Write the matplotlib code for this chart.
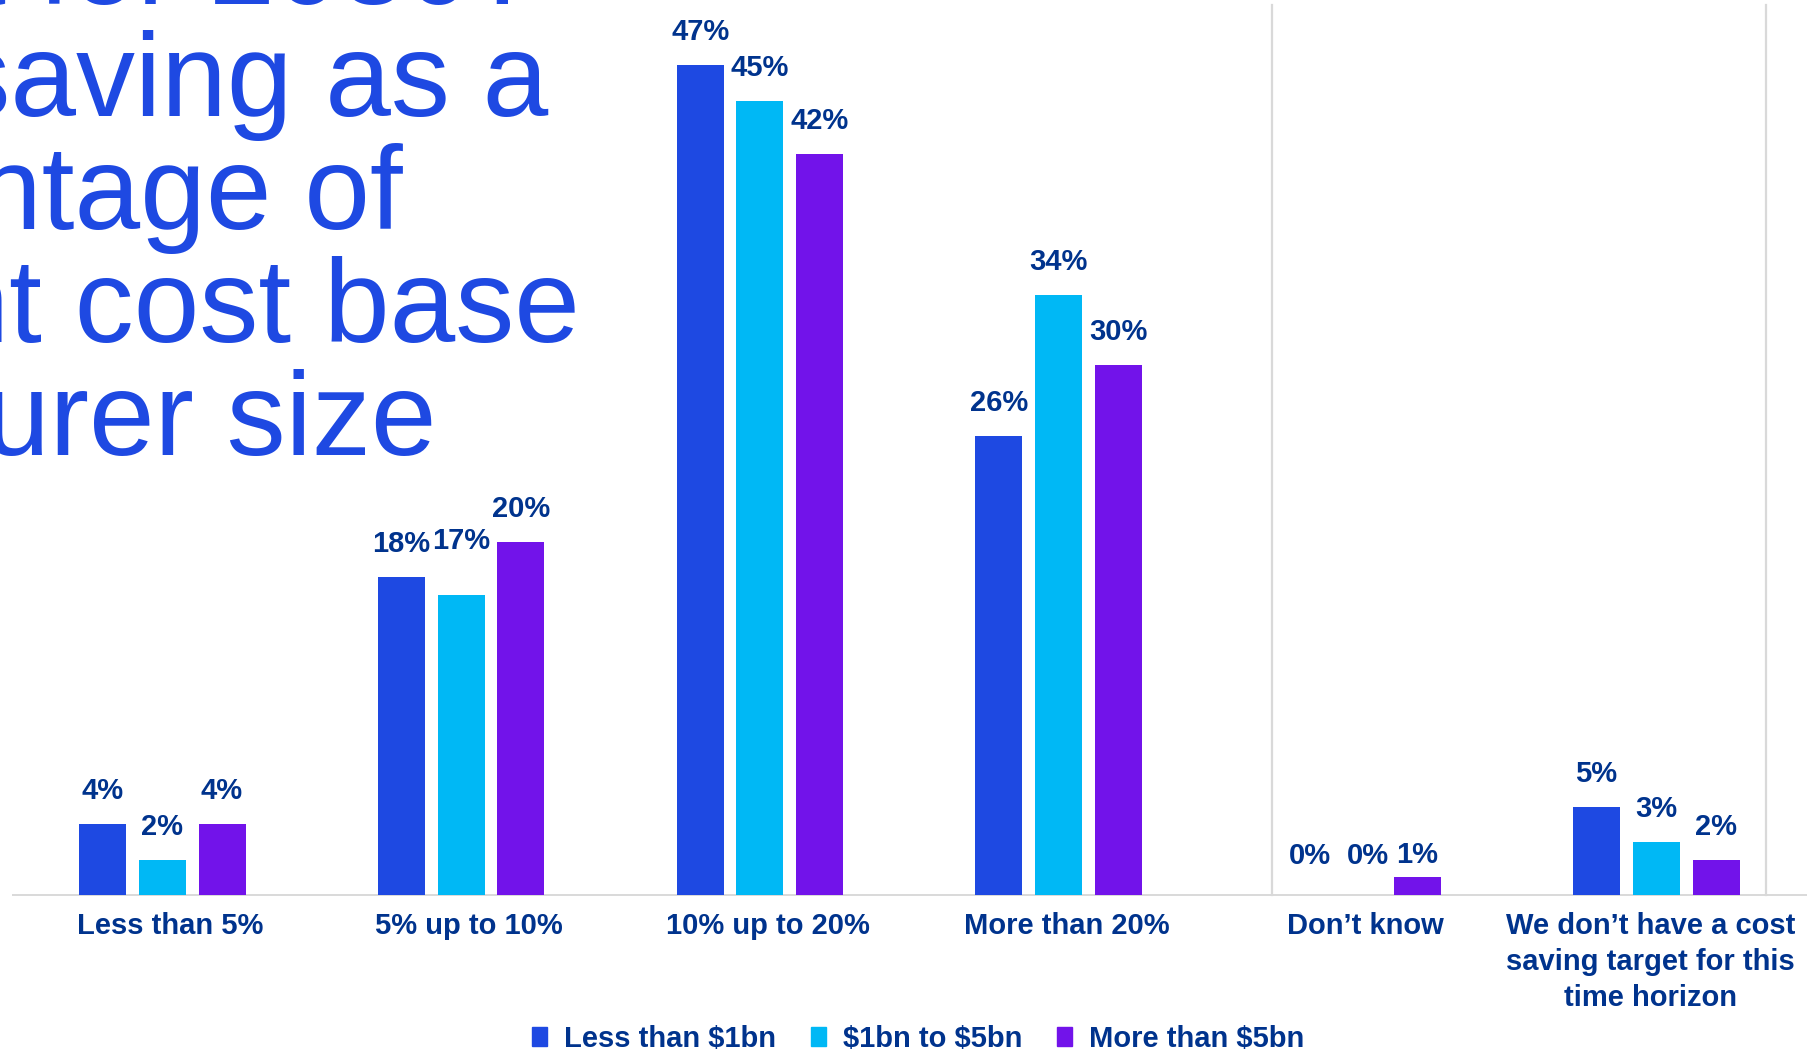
import numpy as np
import matplotlib
matplotlib.use("Agg")
import matplotlib.pyplot as plt
import matplotlib.transforms as mtransforms
from matplotlib.patches import Patch

# data
categories = ["Less than 5%", "5% up to 10%", "10% up to 20%", "More than 20%",
              "Don\u2019t know",
              "We don\u2019t have a cost\nsaving target for this\ntime horizon"]
series_names = [r"Less than \$1bn", r"\$1bn to \$5bn", r"More than \$5bn"]
less_1bn = [4, 18, 47, 26, 0, 5]
from_1_to_5bn = [2, 17, 45, 34, 0, 3]
more_5bn = [4, 20, 42, 30, 1, 2]

title_lines = ["What is your target for 2030?", "Cost saving as a", "percentage of",
               "current cost base", "by insurer size"]

# style
colors = ["#1E49E2", "#00B8F5", "#7213EA"]
text_dark = "#00338D"
grid_grey = "#D9D9D9"
plt.rcParams['font.family'] = ['Liberation Sans', 'DejaVu Sans']

W, H = 1811, 1052
fig = plt.figure(figsize=(W / 100, H / 100), dpi=100)
ax = fig.add_axes([12.9 / W, 157 / H, 1792.8 / W, 890 / H])

x = np.arange(len(categories))
width = 0.157
offsets = [-0.2, 0, 0.2]
all_series = [less_1bn, from_1_to_5bn, more_5bn]

# label distance above bar top (px), a few were moved by hand in the original
label_lift = {(1, 1): 54, (2, 4): 22, (0, 4): 39, (1, 4): 39}
label_shift = {(0, 4): 12, (1, 4): 10}

for i, (vals, off) in enumerate(zip(all_series, offsets)):
    ax.bar(x + off, vals, width, color=colors[i], label=series_names[i], zorder=3)
    for j, v in enumerate(vals):
        lift = label_lift.get((i, j), 33)
        dx = label_shift.get((i, j), 0)
        ax.annotate(f"{v}%", (x[j] + off, v), xytext=(dx * 0.72, lift * 0.72),
                    textcoords="offset points", ha="center", va="center",
                    fontsize=21, fontweight="bold", color=text_dark)

ax.set_xlim(-0.5, len(categories) - 0.5)
ax.set_ylim(0, 50.42)
ax.set_yticks([])
ax.set_xticks(x)
ax.set_xticklabels(categories, fontsize=21, fontweight="bold", color=text_dark,
                   linespacing=1.38)
ax.tick_params(axis="x", length=0, pad=12)
shift = mtransforms.ScaledTranslation(8 / 100, 0, fig.dpi_scale_trans)
for lbl in ax.get_xticklabels()[:5]:
    lbl.set_transform(lbl.get_transform() + shift)
last = ax.get_xticklabels()[5]
last.set_transform(last.get_transform() +
                   mtransforms.ScaledTranslation(-6 / 100, 0, fig.dpi_scale_trans))
for s in ["top", "left", "right"]:
    ax.spines[s].set_visible(False)
ax.spines["bottom"].set_color(grid_grey)
ax.spines["bottom"].set_linewidth(1.4)

# thin vertical separators
for fx in [(1272 - 12.9) / 1792.8, (1766 - 12.9) / 1792.8]:
    ax.plot([fx, fx], [0, 1], transform=ax.transAxes, color=grid_grey, lw=1.6,
            clip_on=False, zorder=1)

# big title, cut on the left edge like in the slide
title_right = [537, 548, 403, 580, 436]
title_base = [4, 116, 229, 342, 455]
for line, xr, yb in zip(title_lines, title_right, title_base):
    fig.text(xr / W, 1 - yb / H, line, ha="right", va="baseline",
             fontsize=85, color=colors[0])

handles = [Patch(color=c, label=n) for c, n in zip(colors, series_names)]
fig.legend(handles=handles, loc="center", bbox_to_anchor=(918 / W, 1 - 1039 / H),
           ncol=3, frameon=False, labelcolor=text_dark,
           prop={"weight": "bold", "size": 21},
           handlelength=0.53, handleheight=0.6, handletextpad=0.56,
           columnspacing=1.2, borderpad=0)

fig.savefig("out.png", dpi=100)
